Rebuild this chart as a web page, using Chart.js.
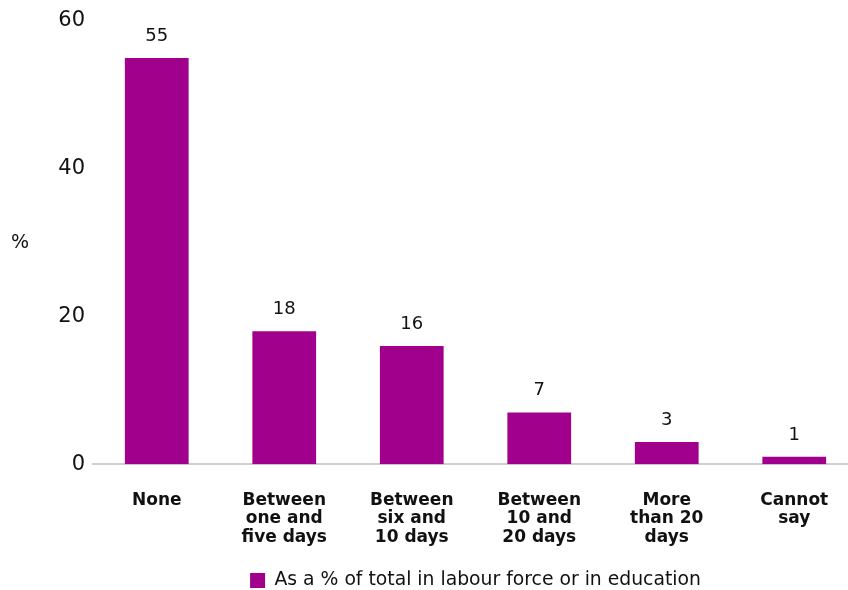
<!DOCTYPE html>
<html>
<head>
<meta charset="utf-8">
<script src="https://cdn.jsdelivr.net/npm/chart.js@4"></script>
<style>
    html, body { margin: 0; padding: 0; background: #fff; overflow: hidden; }
    #wrap { width: 866px; height: 590px; }
</style>
</head>
<body>
<div id="wrap"><canvas id="ChartDays" width="866" height="590"></canvas></div>
<script>
(function () {
    "use strict";

    // Data
    const categories = [
        ['None'],
        ['Between', 'one and', 'five days'],
        ['Between', 'six and', '10 days'],
        ['Between', '10 and', '20 days'],
        ['More', 'than 20', 'days'],
        ['Cannot', 'say']
    ];
    const shares = [55, 18, 16, 7, 3, 1];
    const yTicks = [0, 20, 40, 60];
    const seriesLabel = 'As a % of total in labour force or in education';

    // Colors
    const bar_purple = '#a0008b';
    const text_dark = '#111111';
    const axis_gray = '#cfcfcf';

    const fontFamily = '"DejaVu Sans", sans-serif';

    // Value labels above bars + "%" axis label
    const valueLabels = {
        id: 'valueLabels',
        afterDatasetsDraw(chart) {
            const ctx = chart.ctx;
            const meta = chart.getDatasetMeta(0);
            ctx.save();
            ctx.fillStyle = text_dark;
            ctx.font = '18px ' + fontFamily;
            ctx.textAlign = 'center';
            ctx.textBaseline = 'alphabetic';
            meta.data.forEach((bar, i) => {
                ctx.fillText(String(shares[i]), bar.x, bar.y - 17);
            });
            ctx.font = '19px ' + fontFamily;
            ctx.textBaseline = 'middle';
            ctx.fillText('%', 20, 243);
            ctx.restore();
        }
    };

    const ctb = document.getElementById('ChartDays').getContext('2d');
    new Chart(ctb, {
        type: 'bar',
        data: {
            labels: categories,
            datasets: [{
                label: seriesLabel,
                data: shares,
                backgroundColor: bar_purple,
                borderWidth: 0,
                categoryPercentage: 1.0,
                barPercentage: 0.5
            }]
        },
        options: {
            responsive: false,
            animation: false,
            layout: {
                padding: { top: 21, right: 8, left: 0, bottom: -10 }
            },
            scales: {
                x: {
                    grid: { display: false, drawTicks: false },
                    border: { display: true, color: axis_gray, width: 2 },
                    ticks: {
                        color: text_dark,
                        padding: 27,
                        maxRotation: 0,
                        autoSkip: false,
                        font: { family: fontFamily, size: 17, weight: 'bold', lineHeight: 1.08 }
                    },
                    afterFit: function (scale) { scale.height = 106; }
                },
                y: {
                    min: 0,
                    max: 60,
                    grid: { display: false, drawTicks: false },
                    border: { display: false },
                    afterBuildTicks: function (scale) {
                        scale.ticks = yTicks.map(v => ({ value: v }));
                    },
                    ticks: {
                        color: text_dark,
                        padding: 8,
                        font: { family: fontFamily, size: 21 }
                    },
                    afterFit: function (scale) { scale.width = 93; }
                }
            },
            plugins: {
                legend: {
                    display: true,
                    position: 'bottom',
                    fullSize: false,
                    labels: {
                        color: text_dark,
                        boxWidth: 15,
                        boxHeight: 15,
                        padding: 1,
                        font: { family: fontFamily, size: 18.8 }
                    }
                },
                tooltip: { enabled: false }
            }
        },
        plugins: [valueLabels]
    });
})();
</script>
</body>
</html>
